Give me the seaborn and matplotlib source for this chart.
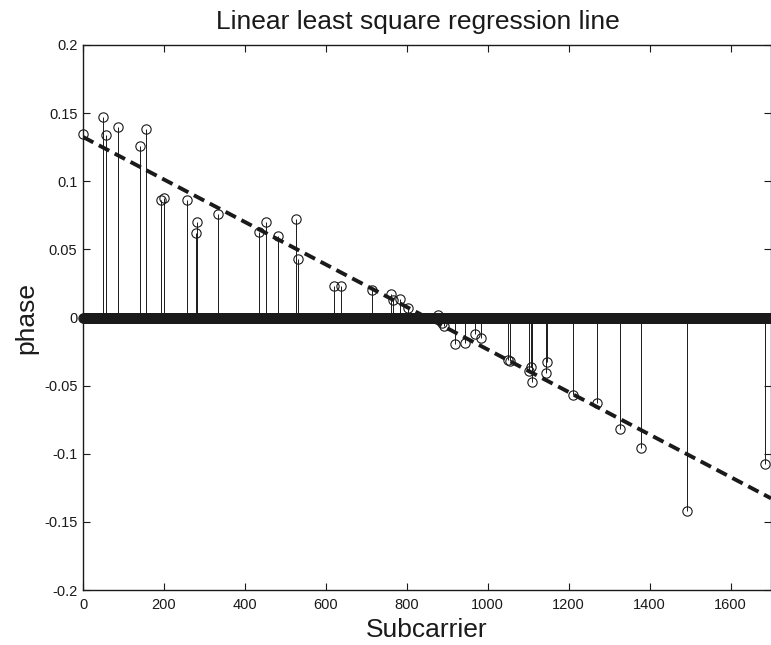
import numpy as np
import pandas as pd
import matplotlib.pyplot as plt
import seaborn as sns

# MATLAB-like plain look
sns.set_theme(style="ticks")
plt.rcParams['font.family'] = ['Liberation Sans', 'DejaVu Sans']

# Data
n_subcarriers = 1700
nonzero_subcarrier = [0, 50, 56, 87, 141, 156, 193, 201, 256, 278, 281, 334,
                      434, 451, 483, 527, 531, 620, 638, 714, 762, 765, 783,
                      803, 876, 888, 893, 918, 943, 969, 984, 1050, 1054,
                      1103, 1107, 1110, 1143, 1147, 1210, 1271, 1327, 1378,
                      1493, 1686]
nonzero_phase = [0.135, 0.147, 0.134, 0.140, 0.126, 0.138, 0.086, 0.0875,
                 0.0865, 0.062, 0.070, 0.0757, 0.063, 0.070, 0.0596, 0.0723,
                 0.043, 0.0228, 0.0228, 0.0205, 0.017, 0.013, 0.0137, 0.0068,
                 0.0022, -0.004, -0.0066, -0.0196, -0.0189, -0.0118, -0.0149,
                 -0.031, -0.032, -0.039, -0.036, -0.047, -0.041, -0.033,
                 -0.0566, -0.0625, -0.082, -0.096, -0.142, -0.1076]

# least squares line
fit_intercept = 0.1325
fit_slope = -0.000156

x_ticks = [0, 200, 400, 600, 800, 1000, 1200, 1400, 1600]
y_ticks = [-0.2, -0.15, -0.1, -0.05, 0, 0.05, 0.1, 0.15, 0.2]
y_tick_labels = ['-0.2', '-0.15', '-0.1', '-0.05', '0', '0.05', '0.1', '0.15', '0.2']

subcarrier = np.arange(n_subcarriers)
phase = np.zeros(n_subcarriers)
phase[nonzero_subcarrier] = nonzero_phase

fit_x = np.array([0, n_subcarriers])
fit_df = pd.DataFrame({'Subcarrier': fit_x, 'phase': fit_intercept + fit_slope * fit_x})

fig = plt.figure(figsize=(7.71, 6.45), dpi=100)
ax = fig.add_axes([83 / 771, 55 / 645, 688 / 771, 545 / 645])

# stem plot: every subcarrier, zeros give the thick band on the baseline
markerline, stemlines, baseline = ax.stem(subcarrier, phase, linefmt='k-',
                                          markerfmt='o', basefmt='k-')
plt.setp(stemlines, linewidth=0.7, color='k')
plt.setp(markerline, markerfacecolor='none', markeredgecolor='k',
         markersize=6.7, markeredgewidth=0.8, clip_on=False)
plt.setp(baseline, linewidth=0.8)

sns.lineplot(data=fit_df, x='Subcarrier', y='phase', color='k',
             linewidth=2.8, ax=ax, zorder=5)
ax.lines[-1].set_dashes([3, 1.6])

ax.set_xlim(0, n_subcarriers)
ax.set_ylim(-0.2, 0.2)
ax.set_xticks(x_ticks)
ax.set_yticks(y_ticks)
ax.set_yticklabels(y_tick_labels)
ax.tick_params(direction='in', top=True, right=True, length=5, width=0.8,
               labelsize=10.5, colors='k', pad=4)
ax.tick_params(axis='x', pad=6)
for s in ax.spines.values():
    s.set_color('k')
    s.set_linewidth(1.0)

ax.set_xlabel('Subcarrier', fontsize=19, color='k', labelpad=4)
ax.set_ylabel('phase', fontsize=19, color='k', labelpad=4)
fig.text(418 / 771, 1 - 22 / 645, 'Linear least square regression line',
         ha='center', va='center', fontsize=19, color='k')

fig.savefig('out.png', dpi=100)
